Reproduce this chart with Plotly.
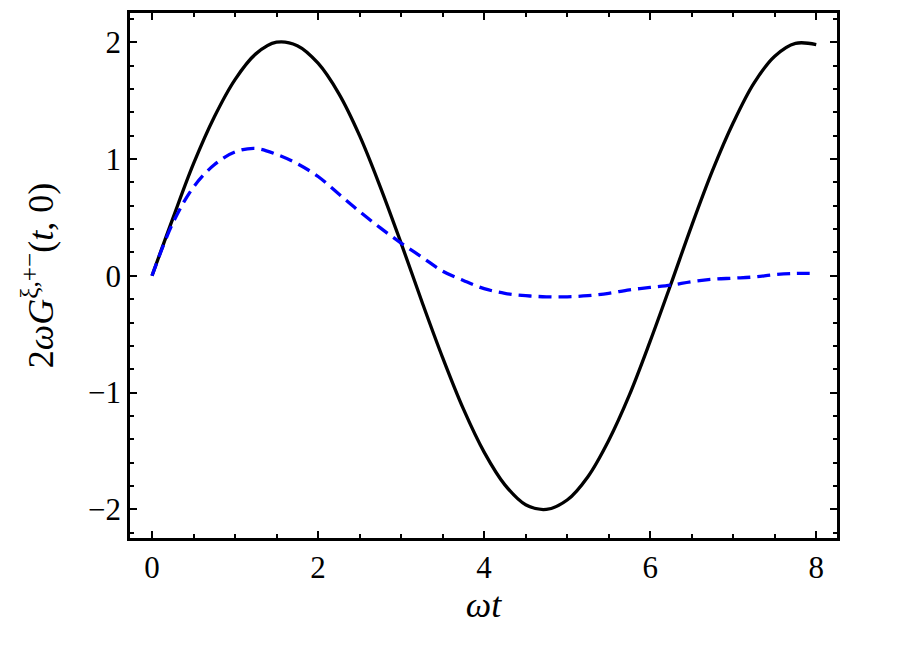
import plotly.graph_objects as go

# values (omega*t from 0 to 8, step 0.25)
wt = [0, 0.25, 0.5, 0.75, 1.0, 1.25, 1.5, 1.75, 2.0, 2.25, 2.5, 2.75, 3.0, 3.25, 3.5, 3.75,
      4.0, 4.25, 4.5, 4.75, 5.0, 5.25, 5.5, 5.75, 6.0, 6.25, 6.5, 6.75, 7.0, 7.25, 7.5, 7.75, 8.0]

g_black = [0, 0.49, 0.96, 1.36, 1.68, 1.90, 2.0, 1.97, 1.82, 1.56, 1.20, 0.76, 0.28, -0.22,
           -0.70, -1.14, -1.51, -1.79, -1.96, -2.0, -1.92, -1.72, -1.41, -1.02, -0.56, -0.07,
           0.43, 0.90, 1.31, 1.65, 1.88, 1.99, 1.98]

g_blue = [0, 0.45, 0.76, 0.95, 1.06, 1.09, 1.04, 0.96, 0.85, 0.70, 0.55, 0.41, 0.28, 0.16,
          0.04, -0.04, -0.11, -0.15, -0.17, -0.18, -0.18, -0.17, -0.15, -0.12, -0.10, -0.08,
          -0.05, -0.03, -0.02, -0.01, 0.01, 0.02, 0.02]

xticks = [0, 2, 4, 6, 8]
yticks = [-2, -1, 0, 1, 2]

fig = go.Figure()
fig.add_trace(go.Scatter(x=wt, y=g_black, mode='lines',
                         line=dict(color='black', width=3.3, shape='spline')))
fig.add_trace(go.Scatter(x=wt, y=g_blue, mode='lines',
                         line=dict(color='#0000ff', width=3.3, dash='13px,7px', shape='spline')))

serif = 'Liberation Serif, Times New Roman, serif'
tick_font = dict(family=serif, size=31, color='black')

# page body adds 8px, so margins are shifted to keep the plot box where it is in the reference
fig.update_layout(
    width=900, height=647,
    margin=dict(l=122, r=71, t=2, b=117),
    plot_bgcolor='white', paper_bgcolor='white',
    showlegend=False,
    font=dict(family=serif, size=30, color='black'),
    xaxis=dict(range=[-0.265, 8.25], tickvals=xticks, ticks='inside', ticklen=7, tickwidth=2,
               tickcolor='black', showline=True, linecolor='black', linewidth=2.5,
               mirror='allticks', showgrid=False, zeroline=False, tickfont=tick_font,
               minor=dict(dtick=0.5, ticks='inside', ticklen=4, tickwidth=2, tickcolor='black'),
               title=dict(text='<i>ωt</i>', standoff=8)),
    yaxis=dict(range=[-2.245, 2.25], tickvals=yticks, ticks='inside', ticklen=7, tickwidth=2,
               tickcolor='black', showline=True, linecolor='black', linewidth=2.5,
               mirror='allticks', showgrid=False, zeroline=False, tickfont=tick_font,
               tickformat='d',
               minor=dict(dtick=0.2, ticks='inside', ticklen=4, tickwidth=2, tickcolor='black'),
               title=dict(text='2<i>ωG</i><sup>ξ,+−</sup>(<i>t</i>, 0)', standoff=24)),
)

fig.write_html("out.html")
